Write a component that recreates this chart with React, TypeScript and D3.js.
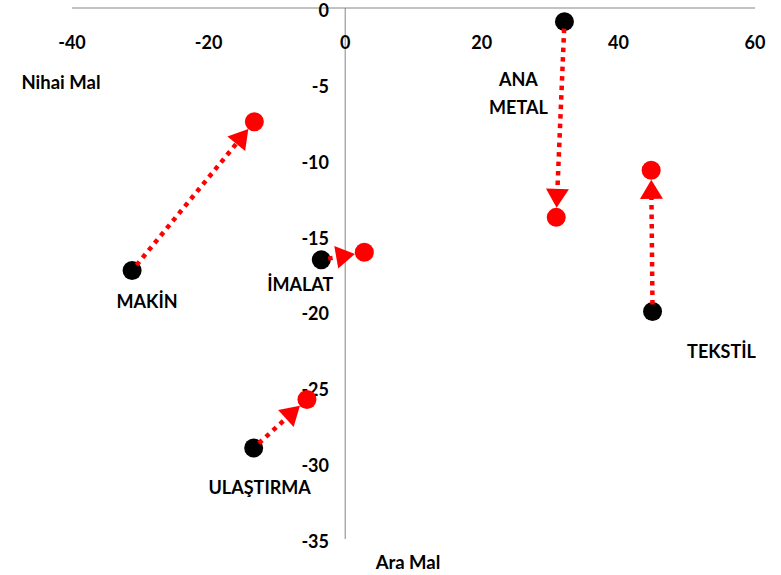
import React from "react";
import * as d3 from "d3";

const sectors = ["MAKİN", "İMALAT", "ULAŞTIRMA", "ANA\nMETAL", "TEKSTİL"];
const araMalBefore = [-31.2, -3.5, -13.4, 32.1, 45.0];
const nihaiMalBefore = [-17.3, -16.6, -29.0, -0.9, -20.0];
const araMalAfter = [-13.3, 2.8, -5.6, 30.9, 44.8];
const nihaiMalAfter = [-7.5, -16.1, -25.8, -13.8, -10.7];
const xTicks = [-40, -20, 0, 20, 40, 60];
const yTicks = [0, -5, -10, -15, -20, -25, -30, -35];
const xAxisTitle = "Ara Mal";
const yAxisTitle = "Nihai Mal";

// label offsets from the starting (black) point, in px
const labelOffsets: [number, number][] = [
  [15, 31],
  [-21, 24],
  [6, 39],
  [-46, 57],
  [69, 40],
];

const W = 781;
const H = 575;
const FONT = "Lato, 'Open Sans', sans-serif";

export default function App() {
  const x = d3.scaleLinear().domain([-40, 60]).range([72, 755]);
  const y = d3.scaleLinear().domain([0, -35]).range([8, 539]);
  const r = 9.5;
  const axisColor = "#868686";

  const arrows = sectors.map((s, i) => {
    const x0 = x(araMalBefore[i]);
    const y0 = y(nihaiMalBefore[i]);
    const x1 = x(araMalAfter[i]);
    const y1 = y(nihaiMalAfter[i]);
    const dx = x1 - x0;
    const dy = y1 - y0;
    const len = Math.sqrt(dx * dx + dy * dy);
    const ux = dx / len;
    const uy = dy / len;
    const tipX = x1 - ux * r;
    const tipY = y1 - uy * r;
    const headLen = 19;
    const headHalf = 11.5;
    const bx = tipX - ux * headLen;
    const by = tipY - uy * headLen;
    const px = -uy;
    const py = ux;
    const tri = [
      [tipX, tipY],
      [bx + px * headHalf, by + py * headHalf],
      [bx - px * headHalf, by - py * headHalf],
    ];
    const sx = x0 + ux * 7;
    const sy = y0 + uy * 7;
    return { sx, sy, ex: bx + ux * 2, ey: by + uy * 2, tri };
  });

  return (
    <svg
      width={W}
      height={H}
      style={{ position: "absolute", left: 0, top: 0, background: "#fff" }}
      fontFamily={FONT}
    >
      {/* axes */}
      <line x1={x(-40)} x2={x(60)} y1={y(0)} y2={y(0)} stroke={axisColor} strokeWidth={1} />
      <line x1={x(0)} x2={x(0)} y1={y(0)} y2={y(-35)} stroke={axisColor} strokeWidth={1} />

      {xTicks.map((t) => (
        <text
          key={"x" + t}
          x={x(t)}
          y={42}
          textAnchor="middle"
          dominantBaseline="central"
          fontSize={18}
          fontWeight="bold"
          fill="#000"
        >
          {t}
        </text>
      ))}
      {yTicks.map((t) => (
        <text
          key={"y" + t}
          x={329}
          y={y(t) + 2}
          textAnchor="end"
          dominantBaseline="central"
          fontSize={18}
          fontWeight="bold"
          fill="#000"
        >
          {t}
        </text>
      ))}

      <text x={61} y={82} textAnchor="middle" dominantBaseline="central" fontSize={18.5} fontWeight="bold">
        {yAxisTitle}
      </text>
      <text x={408} y={562} textAnchor="middle" dominantBaseline="central" fontSize={18.5} fontWeight="bold">
        {xAxisTitle}
      </text>

      {/* points */}
      {sectors.map((s, i) => (
        <g key={"p" + i}>
          <circle cx={x(araMalBefore[i])} cy={y(nihaiMalBefore[i])} r={r} fill="#000" />
          <circle cx={x(araMalAfter[i])} cy={y(nihaiMalAfter[i])} r={r} fill="#ff0000" />
        </g>
      ))}

      {/* arrows */}
      {arrows.map((a, i) => (
        <g key={"a" + i}>
          <line
            x1={a.sx}
            y1={a.sy}
            x2={a.ex}
            y2={a.ey}
            stroke="#ff0000"
            strokeWidth={4.5}
            strokeDasharray="4.5 5"
          />
          <polygon points={a.tri.map((p) => p.join(",")).join(" ")} fill="#ff0000" />
        </g>
      ))}

      {/* labels */}
      {sectors.map((s, i) => {
        const lx = x(araMalBefore[i]) + labelOffsets[i][0];
        const ly = y(nihaiMalBefore[i]) + labelOffsets[i][1];
        const lines = s.split("\n");
        return (
          <text
            key={"l" + i}
            textAnchor="middle"
            dominantBaseline="central"
            fontSize={18}
            fontWeight="bold"
            fill="#000"
          >
            {lines.map((ln, j) => (
              <tspan key={j} x={lx} y={ly + j * 28}>
                {ln}
              </tspan>
            ))}
          </text>
        );
      })}
    </svg>
  );
}
